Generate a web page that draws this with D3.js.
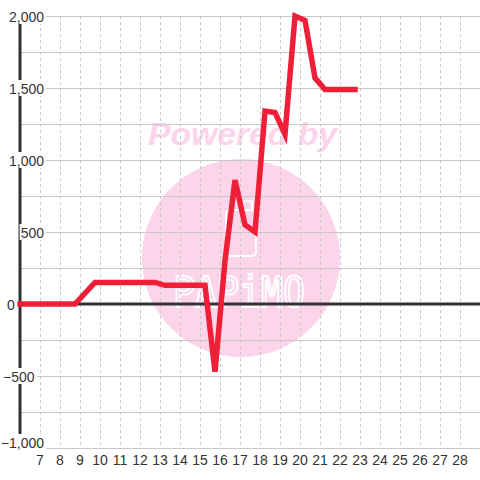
<!DOCTYPE html>
<html>
<head>
<meta charset="utf-8">
<script src="https://cdn.jsdelivr.net/npm/d3@7"></script>
<style>
  html, body { margin: 0; padding: 0; background: #fff; }
  svg { display: block; font-family: "Liberation Sans", Arial, sans-serif; }
</style>
</head>
<body>
<svg id="chart" width="480" height="480"></svg>
<script>
// ---- data ----
const times  = [6, 8.75, 9.75, 12.75, 13.25, 15.25, 15.75, 16.25, 16.75, 17.25, 17.75, 18.25, 18.75, 19.25, 19.75, 20.25, 20.75, 21.25, 22.75];
const values = [0, 0, 150, 150, 130, 130, -470, 300, 860, 550, 500, 1340, 1330, 1180, 2000, 1970, 1570, 1490, 1490];
const xTicks = [7, 8, 9, 10, 11, 12, 13, 14, 15, 16, 17, 18, 19, 20, 21, 22, 23, 24, 25, 26, 27, 28];
const yGrid  = [-1000, -750, -500, -250, 0, 250, 500, 750, 1000, 1250, 1500, 1750, 2000];
const yLabels = [-1000, -500, 0, 500, 1000, 1500, 2000];

const svg = d3.select("#chart");
const x = d3.scaleLinear().domain([6, 29]).range([20, 480]);
const y = d3.scaleLinear().domain([-1000, 2000]).range([448, 16]);

// ---- watermark ----
const wm = svg.append("g");
wm.append("circle").attr("cx", 241).attr("cy", 258).attr("r", 99).attr("fill", "#fcd5ea");
wm.append("text").attr("x", 148).attr("y", 145)
  .attr("font-size", 31).attr("font-weight", "bold").attr("font-style", "italic")
  .attr("textLength", 189).attr("lengthAdjust", "spacingAndGlyphs")
  .attr("fill", "#fcd5ea").text("Powered by");
// cup icon
wm.append("rect").attr("x", 226).attr("y", 210).attr("width", 30).attr("height", 46).attr("rx", 4)
  .attr("fill", "none").attr("stroke", "#fff").attr("stroke-width", 2);
wm.append("rect").attr("x", 243).attr("y", 201).attr("width", 9).attr("height", 9).attr("rx", 2)
  .attr("fill", "none").attr("stroke", "#fff").attr("stroke-width", 2);
wm.append("text").attr("x", 173).attr("y", 307)
  .attr("font-family", "DejaVu Sans Mono, monospace").attr("font-size", 42)
  .attr("textLength", 132).attr("lengthAdjust", "spacingAndGlyphs")
  .attr("fill", "none").attr("stroke", "#fff").attr("stroke-width", 2)
  .text("PAPiMO");

// ---- grid ----
const grid = svg.append("g").attr("shape-rendering", "crispEdges");
grid.selectAll(".hg").data(yGrid).join("line")
  .attr("x1", x(6)).attr("x2", x(29))
  .attr("y1", d => Math.round(y(d)) + 0.5).attr("y2", d => Math.round(y(d)) + 0.5)
  .attr("stroke", "#c8c8c8").attr("stroke-width", 1);
grid.selectAll(".vg").data(xTicks).join("line")
  .attr("x1", d => Math.round(x(d)) + 0.5).attr("x2", d => Math.round(x(d)) + 0.5)
  .attr("y1", y(2000)).attr("y2", y(-1000))
  .attr("stroke", "#c8c8c8").attr("stroke-width", 1).attr("stroke-dasharray", "3,3");

// zero line and y axis
svg.append("line").attr("x1", x(6)).attr("x2", x(29)).attr("y1", y(0)).attr("y2", y(0))
  .attr("stroke", "#333").attr("stroke-width", 3);
svg.append("line").attr("x1", x(6)).attr("x2", x(6)).attr("y1", y(2000)).attr("y2", y(-1000) - 13)
  .attr("stroke", "#333").attr("stroke-width", 3);

// ---- data line ----
const line = d3.line().x((d, i) => x(times[i])).y(d => y(d));
svg.append("path").datum(values).attr("d", line)
  .attr("fill", "none").attr("stroke", "#ef1f38").attr("stroke-width", 5.5)
  .attr("stroke-linecap", "square").attr("stroke-linejoin", "miter");

// ---- y labels with white background ----
const fmt = d3.format(",");
const yl = svg.append("g");
yLabels.forEach(v => {
  const g = yl.append("g");
  const cy = v === -1000 ? y(v) - 6 : y(v);
  const t = g.append("text")
    .attr("y", cy + 6)
    .attr("font-size", 14).attr("fill", "#333")
    .text(fmt(v));
  if (v > 0 || v === -1000) t.attr("x", 44).attr("text-anchor", "end");
  else if (v === 0) t.attr("x", 7).attr("text-anchor", "start");
  else t.attr("x", 3).attr("text-anchor", "start");
  const bb = t.node().getBBox();
  g.insert("rect", "text").attr("x", bb.x - 1).attr("y", cy - 8)
    .attr("width", bb.width + 3).attr("height", v === -1000 ? 16 : 16).attr("fill", "#fff");
});

// ---- x labels ----
svg.append("g").selectAll("text").data(xTicks).join("text")
  .attr("x", d => x(d)).attr("y", 465).attr("text-anchor", "middle")
  .attr("font-size", 14).attr("fill", "#333").text(d => d);
</script>
</body>
</html>
